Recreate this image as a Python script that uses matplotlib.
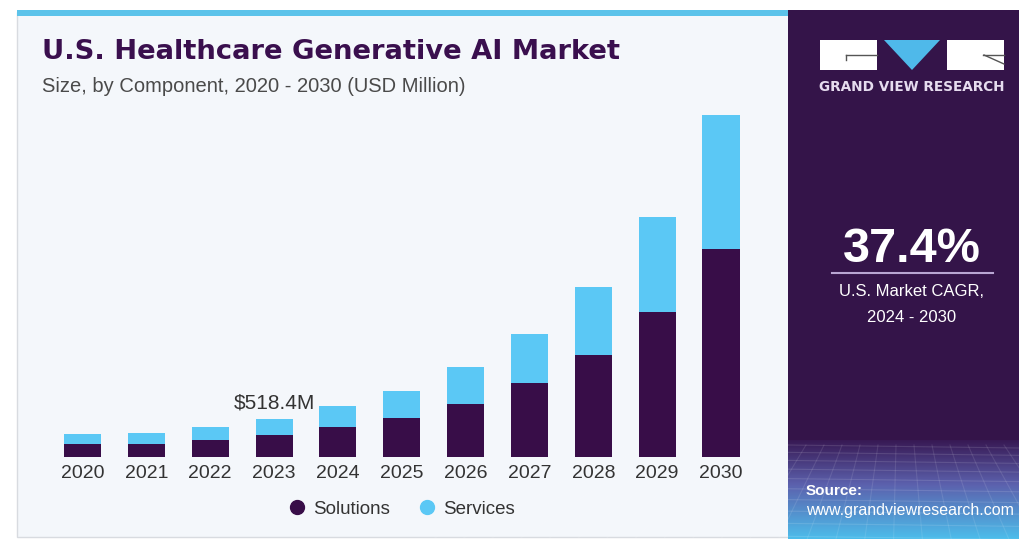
import numpy as np
import matplotlib
matplotlib.use("Agg")
import matplotlib.pyplot as plt
from matplotlib.patches import Rectangle, Polygon
from matplotlib.lines import Line2D

years = ["2020", "2021", "2022", "2023", "2024", "2025",
         "2026", "2027", "2028", "2029", "2030"]
solutions = [173, 173, 228, 297, 408, 532, 726, 1016, 1403, 1997, 2868]
services = [138, 152, 180, 221, 290, 373, 511, 677, 940, 1313, 1852]
callout_year = "2023"
callout_text = "$518.4M"
cagr_text = "37.4%"

W, H = 1020, 539
dark = "#380d48"
light = "#5bc8f5"
panel = "#341449"

plt.rcParams['font.family'] = ['Liberation Sans', 'DejaVu Sans']

fig = plt.figure(figsize=(W / 100, H / 100), dpi=100)
fig.patch.set_facecolor("white")


def fx(px):
    return px / W


def fy(py):
    return 1 - py / H


# background card
bg = fig.add_axes([0, 0, 1, 1])
bg.set_xlim(0, W)
bg.set_ylim(H, 0)
bg.axis("off")
bg.add_patch(Rectangle((17, 12), 790, 525, facecolor="#f4f7fb",
                       edgecolor="#d8dbe0", lw=1))
bg.add_patch(Rectangle((17, 10), 775, 6, facecolor="#5cc3ea", lw=0))
bg.add_patch(Rectangle((788, 10), W - 788, H - 10, facecolor=panel, lw=0))

# bottom gradient of the right panel
grad = np.linspace(0, 1, 100)
cols = np.array([[0.22, 0.10, 0.33], [0.36, 0.38, 0.68], [0.30, 0.74, 0.92]])
img = np.zeros((100, 1, 3))
for i, t in enumerate(grad):
    if t < 0.45:
        c = cols[0] + (cols[1] - cols[0]) * (t / 0.45)
    else:
        c = cols[1] + (cols[2] - cols[1]) * ((t - 0.45) / 0.55)
    img[i, 0] = c
bg.imshow(img, extent=(788, W, H, 440), aspect="auto", zorder=1)
for k in range(14):
    yy = 445 + k * 7 + k * k * 0.35
    bg.plot([788, W], [yy, yy + 3], color="white", alpha=0.12, lw=0.8, zorder=2)
for k in range(-10, 22):
    x0 = 788 + k * 18
    bg.plot([x0, x0 + (x0 - 900) * 0.6], [445, H], color="white",
            alpha=0.10, lw=0.8, zorder=2)
bg.set_xlim(0, W)
bg.set_ylim(H, 0)

# logo
bg.add_patch(Rectangle((820, 40), 57, 30, facecolor="white", lw=0, zorder=3))
bg.add_patch(Rectangle((947, 40), 57, 30, facecolor="white", lw=0, zorder=3))
bg.add_patch(Polygon([(884, 40), (940, 40), (912, 70)], closed=True,
                     facecolor="#4fb9ea", lw=0, zorder=3))
bg.plot([846, 877], [55, 55], color="#555555", lw=1, zorder=4)
bg.plot([846, 846], [55, 60], color="#555555", lw=1, zorder=4)
bg.plot([983, 1004], [55, 55], color="#555555", lw=1, zorder=4)
bg.plot([984, 1004], [55, 64], color="#555555", lw=1, zorder=4)
fig.text(fx(912), fy(87), "GRAND VIEW RESEARCH", color="#e6dcef",
         fontsize=9.8, fontweight="bold", ha="center", va="center",
         family=["DejaVu Sans"])

# CAGR block
fig.text(fx(912), fy(249), cagr_text, color="white", fontsize=35,
         fontweight="bold", ha="center", va="center")
bg.plot([832, 993], [273, 273], color="#b9a6d3", lw=1.5, zorder=3)
fig.text(fx(912), fy(292), "U.S. Market CAGR,", color="white", fontsize=12,
         ha="center", va="center")
fig.text(fx(912), fy(317), "2024 - 2030", color="white", fontsize=12,
         ha="center", va="center")

# source
fig.text(fx(806), fy(491), "Source:", color="white", fontsize=11,
         fontweight="bold", ha="left", va="center")
fig.text(fx(806), fy(511), "www.grandviewresearch.com", color="white",
         fontsize=11.5, ha="left", va="center")

# titles
fig.text(fx(42), fy(52), "U.S. Healthcare Generative AI Market", color="#3a0f4e",
         fontsize=19.7, fontweight="heavy", ha="left", va="center",
         family=["DejaVu Sans"])
fig.text(fx(42), fy(86), "Size, by Component, 2020 - 2030 (USD Million)",
         color="#4a4a4a", fontsize=14.5, ha="left", va="center")

# bars
scale = 518.4 / 37.5  # USD million per pixel
top_px = 100
bottom_px = 456.5
x_left, x_right = 40, 760
pitch = 63.85
c0 = 82.5
ax = fig.add_axes([fx(x_left), fy(bottom_px), fx(x_right - x_left),
                   (bottom_px - top_px) / H])
ax.set_xlim((x_left - c0) / pitch, (x_right - c0) / pitch)
ax.set_ylim(0, (bottom_px - top_px) * scale)
ax.patch.set_alpha(0)
for s in ax.spines.values():
    s.set_visible(False)

x = np.arange(len(years))
ax.bar(x, solutions, width=0.58, color=dark, label="Solutions")
ax.bar(x, services, width=0.58, bottom=solutions, color=light, label="Services")
ax.set_xticks(x)
ax.set_xticklabels(years, fontsize=14, color="#333333")
ax.tick_params(axis="x", length=0, pad=6)
ax.set_yticks([])

i = years.index(callout_year)
ax.text(i, solutions[i] + services[i] + 7 * scale, callout_text,
        ha="center", va="bottom", fontsize=15, color="#333333")

leg_handles = [Line2D([], [], marker="o", ls="", markersize=10, color=dark),
               Line2D([], [], marker="o", ls="", markersize=10, color=light)]
fig.legend(leg_handles, ["Solutions", "Services"], loc="center",
           bbox_to_anchor=(fx(401), fy(509)), ncol=2, frameon=False,
           fontsize=13.5, handlelength=1.0, handletextpad=0.35,
           columnspacing=1.5, labelcolor="#333333")

fig.savefig("out.png", dpi=100)
